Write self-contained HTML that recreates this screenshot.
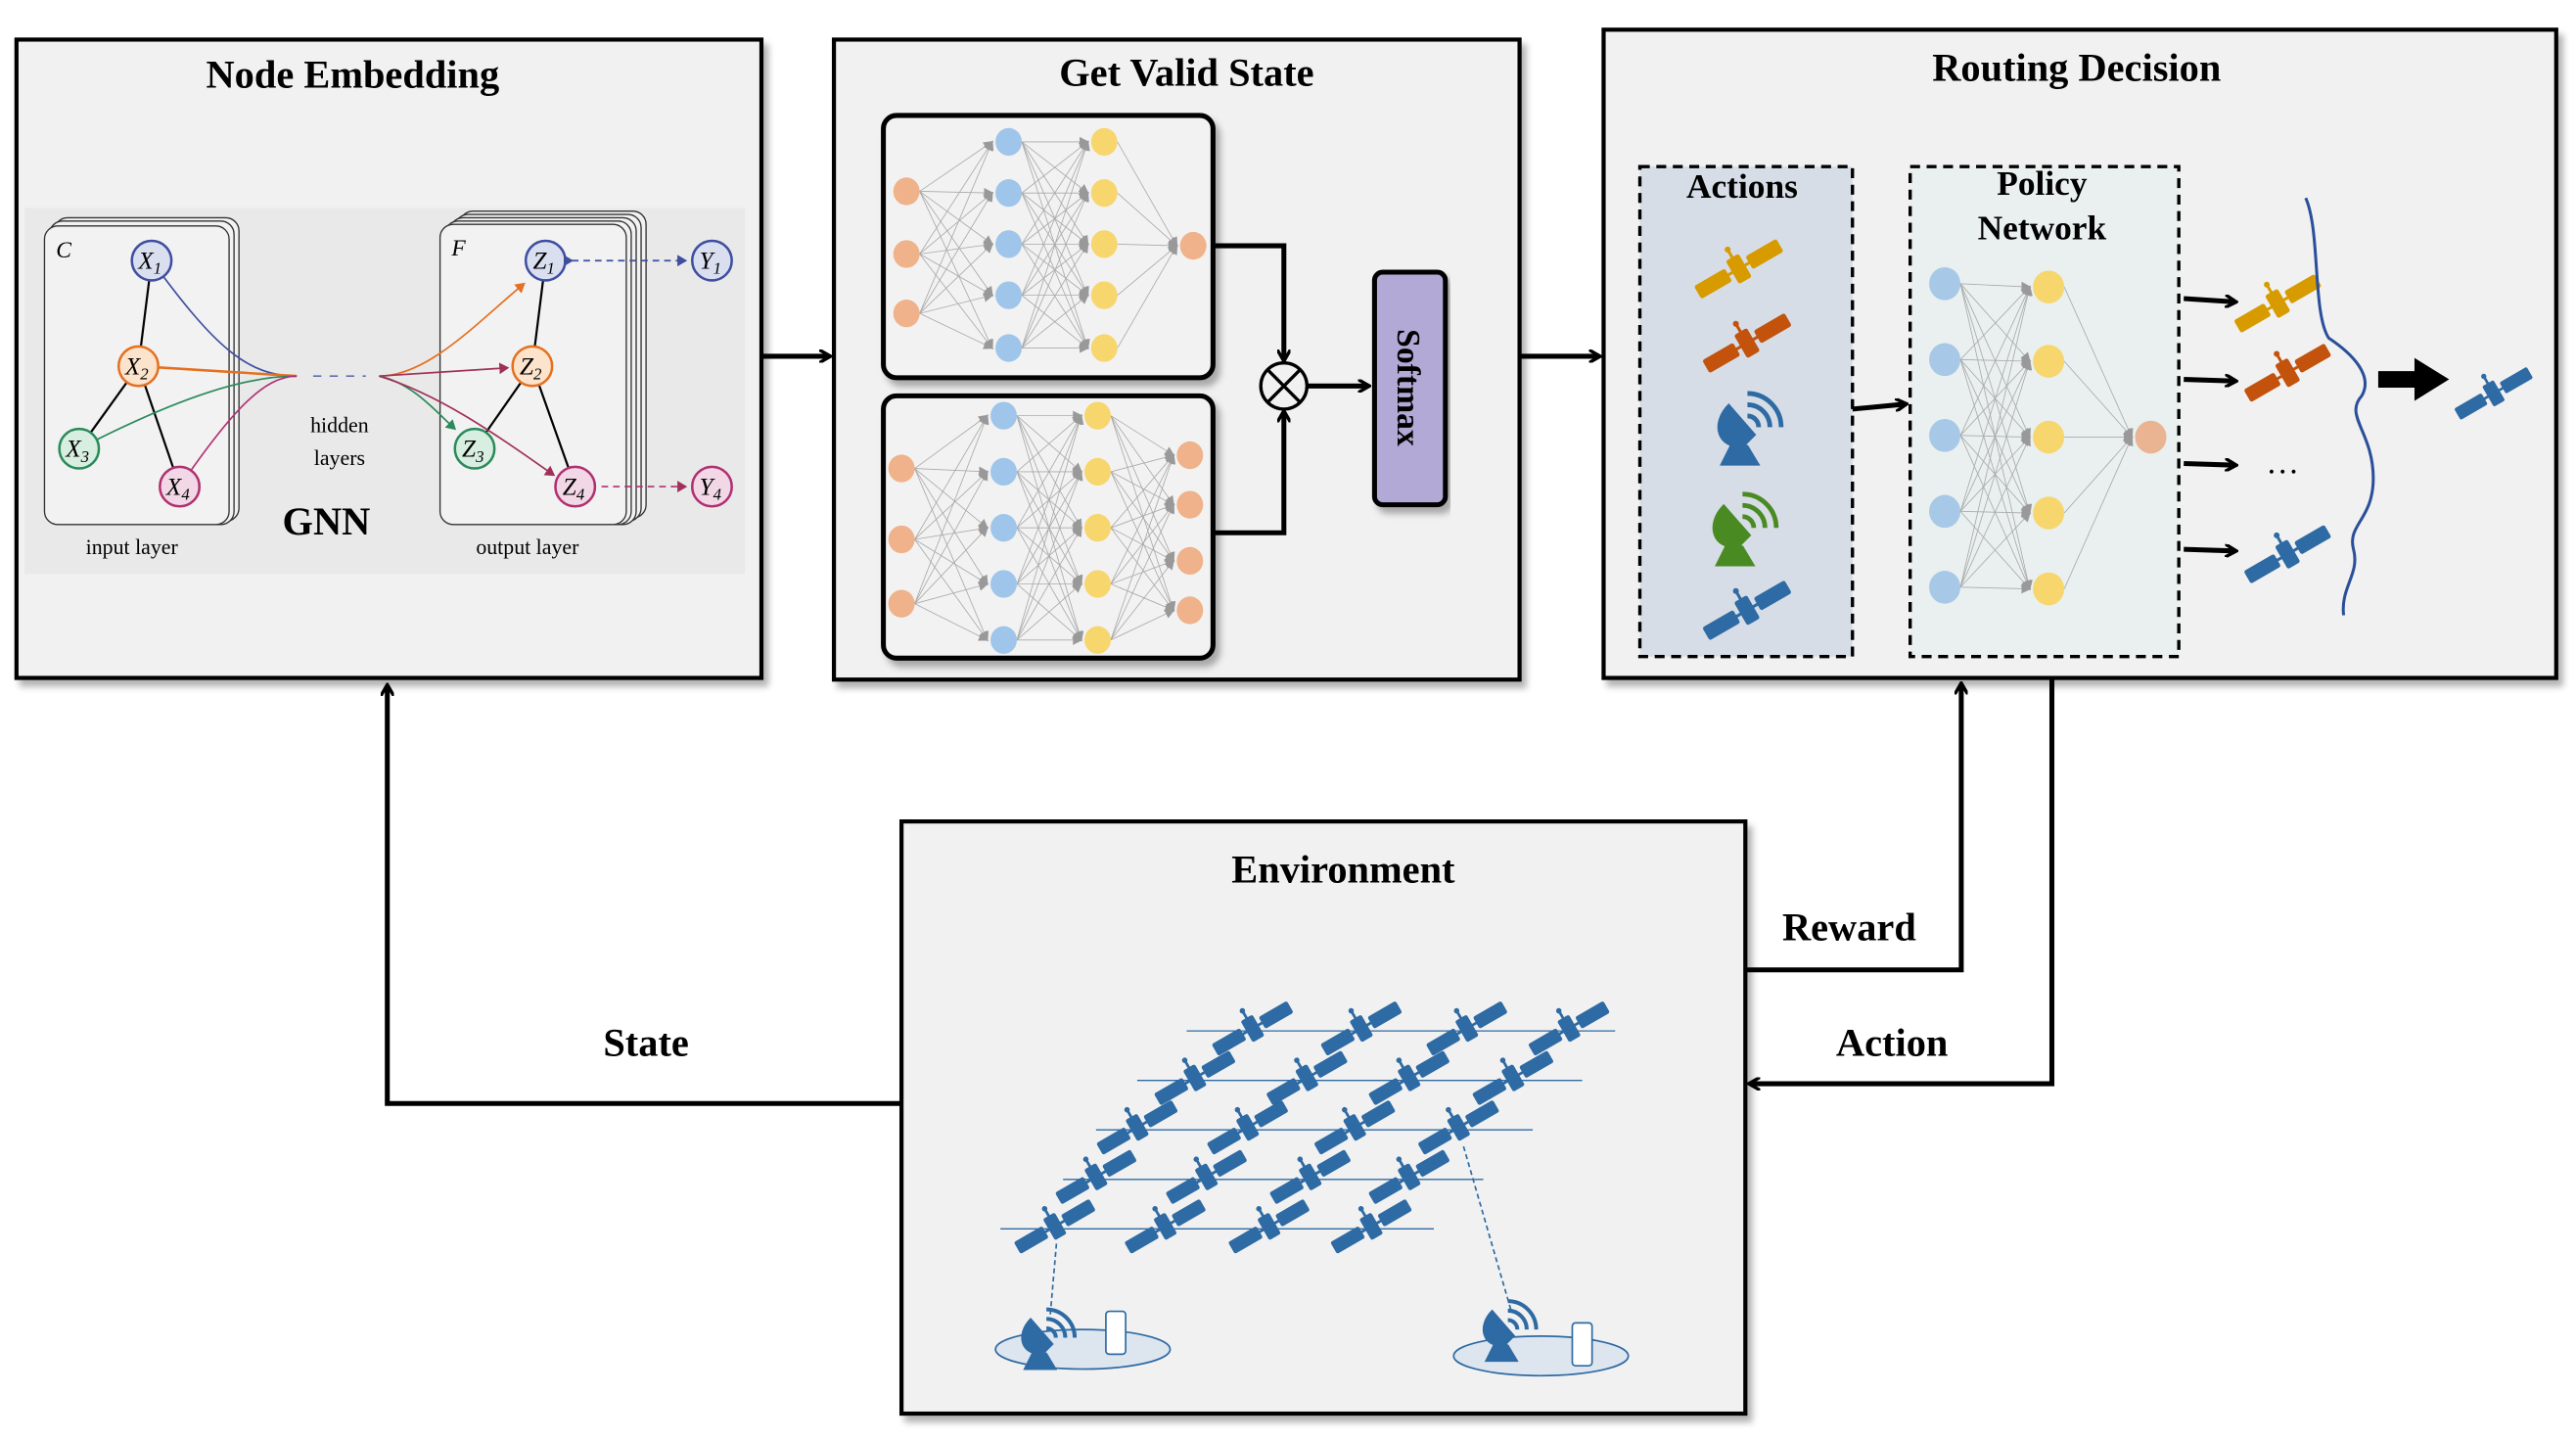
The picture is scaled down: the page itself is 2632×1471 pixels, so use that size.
<!DOCTYPE html>
<html><head><meta charset="utf-8"><style>
html,body{margin:0;padding:0;background:#fff;width:2632px;height:1471px;overflow:hidden}
svg{display:block}
text{font-family:"Liberation Serif",serif}
</style></head><body>
<svg id="s" width="2632" height="1471" viewBox="0 0 1563 873" preserveAspectRatio="none" xmlns="http://www.w3.org/2000/svg">
<defs>
<filter id="sh" x="-5%" y="-5%" width="112%" height="112%"><feDropShadow dx="3" dy="4" stdDeviation="2" flood-color="#000" flood-opacity="0.3"/></filter>
<marker id="ah" markerWidth="8" markerHeight="8" refX="6" refY="4" orient="auto" markerUnits="userSpaceOnUse"><path d="M0,0 L7,4 L0,8" fill="none" stroke="#000" stroke-width="2"/></marker>
<marker id="ag" markerWidth="6" markerHeight="6" refX="5" refY="3" orient="auto" markerUnits="userSpaceOnUse"><path d="M0,0 L6,3 L0,6Z" fill="#999"/></marker>
<marker id="ab" markerWidth="7" markerHeight="7" refX="5" refY="3.5" orient="auto" markerUnits="userSpaceOnUse"><path d="M0,0 L6,3.5 L0,7Z" fill="#3f4ea0"/></marker>
<marker id="ap" markerWidth="7" markerHeight="7" refX="5" refY="3.5" orient="auto" markerUnits="userSpaceOnUse"><path d="M0,0 L6,3.5 L0,7Z" fill="#a0305a"/></marker>
<marker id="ao" markerWidth="7" markerHeight="7" refX="5" refY="3.5" orient="auto" markerUnits="userSpaceOnUse"><path d="M0,0 L6,3.5 L0,7Z" fill="#e57020"/></marker>
<marker id="agr" markerWidth="7" markerHeight="7" refX="5" refY="3.5" orient="auto" markerUnits="userSpaceOnUse"><path d="M0,0 L6,3.5 L0,7Z" fill="#2a8a5a"/></marker>
<symbol id="sat" viewBox="-34 -20 68 40" overflow="visible">
<g transform="rotate(-30)"><rect x="-32" y="-5" width="24" height="10" rx="1.5"/><rect x="8" y="-5" width="24" height="10" rx="1.5"/><rect x="-5" y="-9" width="10" height="18" rx="1.5"/><rect x="-9" y="-1" width="18" height="2"/><rect x="-1" y="-15" width="2" height="7"/><circle cx="0" cy="-15" r="2"/></g>
</symbol>
<symbol id="dish" viewBox="-20 -22 40 44" overflow="visible">
<path d="M-8,-12 C-18,-2 -14,12 0,10 L6,4 Z"/><path d="M-12,20 L-6,8 L2,10 L8,20 Z"/>
<path d="M2,-6 A6,6 0 0 1 8,0" fill="none" stroke-width="2.5"/><path d="M2,-12 A12,12 0 0 1 14,0" fill="none" stroke-width="2.5"/><path d="M2,-18 A18,18 0 0 1 20,0" fill="none" stroke-width="2.5"/>
</symbol>
</defs>

<!-- Node Embedding -->
<rect x="10" y="24" width="452" height="387" fill="#f1f1f1" stroke="#000" stroke-width="2.5" filter="url(#sh)"/>
<text x="214" y="53" font-size="24" font-weight="bold" text-anchor="middle">Node Embedding</text>
<rect x="15" y="126" width="437" height="222" fill="#e9e9e9"/>
<g fill="#f2f2f2" stroke="#333" stroke-width="0.8">
<rect x="33" y="132" width="112" height="184" rx="8"/><rect x="30" y="134" width="112" height="184" rx="8"/><rect x="27" y="137" width="112" height="181" rx="8"/>
<rect x="279" y="128" width="113" height="186" rx="8"/><rect x="276" y="130" width="113" height="186" rx="8"/><rect x="273" y="132" width="113" height="186" rx="8"/><rect x="270" y="134" width="113" height="184" rx="8"/><rect x="267" y="136" width="113" height="182" rx="8"/>
</g>
<text x="34" y="156" font-size="14" font-style="italic">C</text><text x="274" y="155" font-size="14" font-style="italic">F</text>
<g stroke="#000" stroke-width="1.3"><line x1="92" y1="158" x2="84" y2="222"/><line x1="84" y1="222" x2="48" y2="272"/><line x1="84" y1="222" x2="109" y2="295"/>
<line x1="331" y1="158" x2="323" y2="222"/><line x1="323" y1="222" x2="288" y2="272"/><line x1="323" y1="222" x2="349" y2="295"/></g>
<g fill="none" stroke-width="1">
<path d="M92,158 C130,210 150,228 180,228" stroke="#3f4ea0"/>
<path d="M84,222 L180,228" stroke="#e57020" stroke-width="1.5"/>
<path d="M48,272 C110,240 150,228 180,228" stroke="#2a8a5a"/>
<path d="M109,295 C140,250 160,228 180,228" stroke="#b03070"/>
<path d="M190,228 L222,228" stroke="#6070b0" stroke-dasharray="5,5"/>
<path d="M230,228 C260,228 290,195 318,172" stroke="#e57020" marker-end="url(#ao)"/>
<path d="M230,228 L308,223" stroke="#a0305a" marker-end="url(#ap)"/>
<path d="M230,228 C250,232 265,250 276,260" stroke="#2a8a5a" marker-end="url(#agr)"/>
<path d="M230,228 C270,240 310,270 336,288" stroke="#a0305a" marker-end="url(#ap)"/>
</g>
<g stroke-width="1.5">
<circle cx="92" cy="158" r="12" fill="#dadff0" stroke="#3f4ea0"/><circle cx="84" cy="222" r="12" fill="#fbe3cc" stroke="#e57020"/><circle cx="48" cy="272" r="12" fill="#d7eee0" stroke="#2a8a5a"/><circle cx="109" cy="295" r="12" fill="#f2d8e6" stroke="#b03070"/>
<circle cx="331" cy="158" r="12" fill="#dadff0" stroke="#3f4ea0"/><circle cx="323" cy="222" r="12" fill="#fbe3cc" stroke="#e57020"/><circle cx="288" cy="272" r="12" fill="#d7eee0" stroke="#2a8a5a"/><circle cx="349" cy="295" r="12" fill="#f2d8e6" stroke="#b03070"/>
<circle cx="432" cy="158" r="12" fill="#dadff0" stroke="#3f4ea0"/><circle cx="432" cy="295" r="12" fill="#f2d8e6" stroke="#b03070"/>
</g>
<line x1="347" y1="158" x2="416" y2="158" stroke="#3f4ea0" stroke-dasharray="4,3" marker-end="url(#ab)" marker-start="url(#ab)"/>
<line x1="365" y1="295" x2="416" y2="295" stroke="#b03070" stroke-dasharray="4,3" marker-end="url(#ap)"/>
<g font-size="15" font-style="italic" text-anchor="middle">
<text x="91" y="163">X<tspan font-size="10" dy="3">1</tspan></text><text x="83" y="227">X<tspan font-size="10" dy="3">2</tspan></text><text x="47" y="277">X<tspan font-size="10" dy="3">3</tspan></text><text x="108" y="300">X<tspan font-size="10" dy="3">4</tspan></text>
<text x="330" y="163">Z<tspan font-size="10" dy="3">1</tspan></text><text x="322" y="227">Z<tspan font-size="10" dy="3">2</tspan></text><text x="287" y="277">Z<tspan font-size="10" dy="3">3</tspan></text><text x="348" y="300">Z<tspan font-size="10" dy="3">4</tspan></text>
<text x="431" y="163">Y<tspan font-size="10" dy="3">1</tspan></text><text x="431" y="300">Y<tspan font-size="10" dy="3">4</tspan></text></g>
<text x="206" y="262" font-size="13" text-anchor="middle">hidden</text><text x="206" y="282" font-size="13" text-anchor="middle">layers</text>
<text x="198" y="324" font-size="24" font-weight="bold" text-anchor="middle">GNN</text>
<text x="80" y="336" font-size="13" text-anchor="middle">input layer</text><text x="320" y="336" font-size="13" text-anchor="middle">output layer</text>

<!-- Get Valid State -->
<rect x="506" y="24" width="416" height="388" fill="#f1f1f1" stroke="#000" stroke-width="2.5" filter="url(#sh)"/>
<text x="720" y="52" font-size="24" font-weight="bold" text-anchor="middle">Get Valid State</text>
<rect x="536" y="70" width="200" height="159" rx="8" fill="#f2f2f2" stroke="#000" stroke-width="3" filter="url(#sh)"/>
<rect x="536" y="240" width="200" height="159" rx="8" fill="#f2f2f2" stroke="#000" stroke-width="3" filter="url(#sh)"/>
<g id="nets"></g>
<g fill="none" stroke="#000" stroke-width="3">
<path d="M736,149 H779 V218" marker-end="url(#ah)"/><path d="M736,323 H779 V250" marker-end="url(#ah)"/>
<path d="M793,234 H830" marker-end="url(#ah)"/>
<circle cx="779" cy="234" r="14" stroke-width="2"/><path d="M769,224 L789,244 M789,224 L769,244" stroke-width="2"/>
</g>
<rect x="834" y="165" width="43" height="141" rx="5" fill="#b3a9d6" stroke="#000" stroke-width="3" filter="url(#sh)"/>
<text x="0" y="0" font-size="20" font-weight="bold" text-anchor="middle" transform="translate(848,235) rotate(90)">Softmax</text>

<line x1="462" y1="216" x2="503" y2="216" stroke="#000" stroke-width="3" marker-end="url(#ah)"/>
<line x1="922" y1="216" x2="970" y2="216" stroke="#000" stroke-width="3" marker-end="url(#ah)"/>

<!-- Routing Decision -->
<rect x="973" y="18" width="578" height="393" fill="#f1f1f1" stroke="#000" stroke-width="2.5" filter="url(#sh)"/>
<text x="1260" y="49" font-size="24" font-weight="bold" text-anchor="middle">Routing Decision</text>
<rect x="995" y="101" width="129" height="297" fill="#d6dde6" stroke="#000" stroke-width="2" stroke-dasharray="6,4"/>
<rect x="1159" y="101" width="163" height="297" fill="#e9f0ef" stroke="#000" stroke-width="2" stroke-dasharray="6,4"/>
<text x="1057" y="120" font-size="21" font-weight="bold" text-anchor="middle">Actions</text>
<text x="1239" y="118" font-size="21" font-weight="bold" text-anchor="middle">Policy</text>
<text x="1239" y="145" font-size="21" font-weight="bold" text-anchor="middle">Network</text>
<use href="#sat" x="1024" y="145" width="62" height="36" fill="#d79b00"/>
<use href="#sat" x="1029" y="190" width="62" height="36" fill="#c2520c"/>
<use href="#dish" x="1035" y="234" width="46" height="50" fill="#2e6aa3" stroke="#2e6aa3"/>
<use href="#dish" x="1032" y="295" width="46" height="50" fill="#4a8a22" stroke="#4a8a22"/>
<use href="#sat" x="1029" y="352" width="62" height="36" fill="#2e6aa3"/>
<line x1="1124" y1="248" x2="1156" y2="245" stroke="#000" stroke-width="3" marker-end="url(#ah)"/>
<g id="pnet"></g>
<g stroke="#000" stroke-width="3">
<line x1="1325" y1="181" x2="1356" y2="183" marker-end="url(#ah)"/>
<line x1="1325" y1="230" x2="1356" y2="231" marker-end="url(#ah)"/>
<line x1="1325" y1="281" x2="1356" y2="282" marker-end="url(#ah)"/>
<line x1="1325" y1="333" x2="1356" y2="334" marker-end="url(#ah)"/>
</g>
<use href="#sat" x="1352" y="166" width="60" height="36" fill="#d79b00"/>
<use href="#sat" x="1358" y="208" width="60" height="36" fill="#c2520c"/>
<text x="1385" y="287" font-size="20" text-anchor="middle">…</text>
<use href="#sat" x="1358" y="318" width="60" height="36" fill="#2e6aa3"/>
<path d="M1399,120 C1408,140 1403,190 1413,205 C1428,215 1440,228 1433,240 C1422,252 1440,262 1440,290 C1440,315 1424,318 1428,333 C1432,348 1420,356 1422,373" fill="none" stroke="#2a4f9a" stroke-width="1.8"/>
<path d="M1443,225 H1465 V217 L1486,230 L1465,243 V235 H1443Z" fill="#000"/>
<use href="#sat" x="1486" y="222" width="54" height="33" fill="#2e6aa3"/>

<!-- Environment -->
<rect x="547" y="498" width="512" height="359" fill="#f1f1f1" stroke="#000" stroke-width="2.5" filter="url(#sh)"/>
<text x="815" y="535" font-size="24" font-weight="bold" text-anchor="middle">Environment</text>
<g id="env"></g>
<ellipse cx="657" cy="818" rx="53" ry="12" fill="#dde5ef" stroke="#2e6aa3"/>
<ellipse cx="935" cy="822" rx="53" ry="12" fill="#dde5ef" stroke="#2e6aa3"/>
<use href="#dish" x="613" y="790" width="40" height="42" fill="#2e6aa3" stroke="#2e6aa3"/>
<use href="#dish" x="893" y="785" width="40" height="42" fill="#2e6aa3" stroke="#2e6aa3"/>
<rect x="671" y="795" width="12" height="26" rx="2" fill="#fff" stroke="#2e6aa3"/>
<rect x="954" y="802" width="12" height="26" rx="2" fill="#fff" stroke="#2e6aa3"/>
<line x1="641" y1="754" x2="637" y2="800" stroke="#2e6aa3" stroke-dasharray="3,2"/>
<line x1="888" y1="695" x2="917" y2="795" stroke="#2e6aa3" stroke-dasharray="3,2"/>

<!-- feedback loops -->
<g fill="none" stroke="#000" stroke-width="3">
<path d="M547,669 H235 V416" marker-end="url(#ah)"/>
<path d="M1059,588 H1190 V415" marker-end="url(#ah)"/>
<path d="M1245,411 V657 H1062" marker-end="url(#ah)"/>
</g>
<text x="392" y="640" font-size="24" font-weight="bold" text-anchor="middle">State</text>
<text x="1122" y="570" font-size="24" font-weight="bold" text-anchor="middle">Reward</text>
<text x="1148" y="640" font-size="24" font-weight="bold" text-anchor="middle">Action</text>
</svg>
<script>
var NS="http://www.w3.org/2000/svg";
function el(p,t,a){var e=document.createElementNS(NS,t);for(var k in a)e.setAttribute(k,a[k]);p.appendChild(e);return e;}
function net(g,layers,r){
 for(var i=0;i<layers.length-1;i++){var A=layers[i],B=layers[i+1];
  A.ys.forEach(function(y1){B.ys.forEach(function(y2){el(g,"line",{x1:A.x+r,y1:y1,x2:B.x-r-2,y2:y2,stroke:"#aaa","stroke-width":0.5,"marker-end":"url(#ag)"});});});}
 layers.forEach(function(L){L.ys.forEach(function(y){el(g,"ellipse",{cx:L.x,cy:y,rx:r,ry:r*1.05,fill:L.c});});});
}
var O="#efb28a",B="#9fc5ea",Y="#f7d66e";
var g=document.getElementById("nets");
net(g,[{x:550,ys:[116,154,190],c:O},{x:612,ys:[86,117,148,179,211],c:B},{x:670,ys:[86,117,148,179,211],c:Y},{x:724,ys:[149],c:O}],8);
net(g,[{x:547,ys:[284,327,366],c:O},{x:609,ys:[252,286,320,354,388],c:B},{x:666,ys:[252,286,320,354,388],c:Y},{x:722,ys:[276,306,340,370],c:O}],8);
var p=document.getElementById("pnet");
net(p,[{x:1180,ys:[172,218,264,310,356],c:"#a7c8e6"},{x:1243,ys:[174,219,265,311,357],c:Y},{x:1305,ys:[265],c:"#eab392"}],9.5);
var e=document.getElementById("env");
var rows=[[625,[760,826,890,952],720,980],[655,[725,793,855,918],690,960],[685,[690,757,822,885],665,930],[715,[665,732,795,855],645,900],[745,[640,707,770,832],607,870]];
rows.forEach(function(r){el(e,"line",{x1:r[2],y1:r[0],x2:r[3],y2:r[0],stroke:"#2e6aa3","stroke-width":0.8});
 r[1].forEach(function(x){el(e,"use",{href:"#sat",x:x-28,y:r[0]-18,width:56,height:33,fill:"#2e6aa3"});});});
</script>
</body></html>
